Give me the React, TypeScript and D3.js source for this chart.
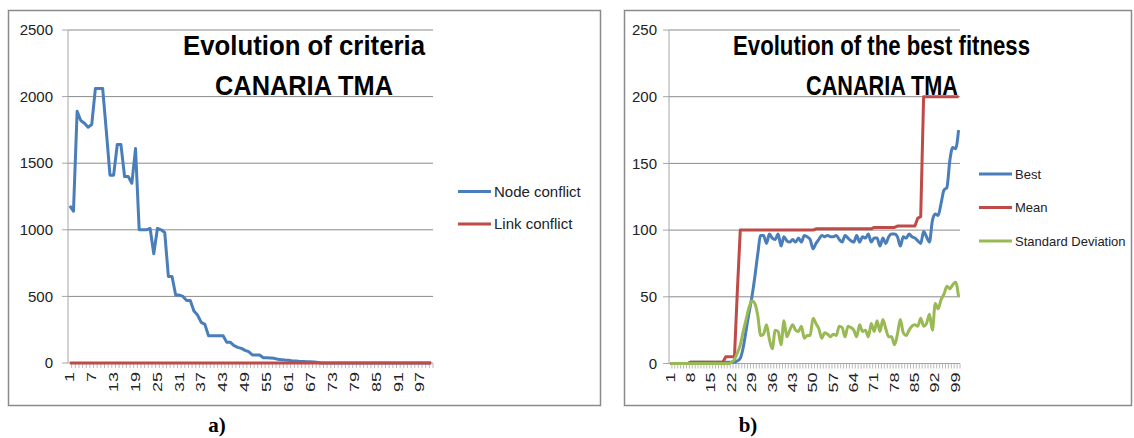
import React from "react";
import * as d3 from "d3";

const categories: number[] = d3.range(1, 101);

const nodeConflict = [
  1180, 1140, 1890, 1820, 1800, 1770, 1790, 2060, 2060, 2060,
  1740, 1410, 1410, 1640, 1640, 1400, 1400, 1350, 1610, 1000,
  1000, 1000, 1010, 820, 1010, 1000, 980, 650, 650, 510,
  510, 500, 470, 470, 390, 360, 305, 290, 205, 205,
  205, 205, 205, 155, 155, 130, 117, 110, 95, 85,
  60, 60, 60, 40, 40, 38, 35, 28, 25, 22,
  20, 15, 15, 12, 12, 10, 10, 8, 4, 0,
  0, 0, 0, 0, 0, 0, 0, 0, 0, 0,
  0, 0, 0, 0, 0, 0, 0, 0, 0, 0,
  0, 0, 0, 0, 0, 0, 0, 0, 0, 0,
];

const linkConflict = [
  0, 0, 0, 0, 0, 0, 0, 0, 0, 0,
  0, 0, 0, 0, 0, 0, 0, 0, 0, 0,
  0, 0, 0, 0, 0, 0, 0, 0, 0, 0,
  0, 0, 0, 0, 0, 0, 0, 0, 0, 0,
  0, 0, 0, 0, 0, 0, 0, 0, 0, 0,
  0, 0, 0, 0, 0, 0, 0, 0, 0, 0,
  0, 0, 0, 0, 0, 0, 0, 0, 0, 0,
  0, 0, 0, 0, 0, 0, 0, 0, 0, 0,
  0, 0, 0, 0, 0, 0, 0, 0, 0, 0,
  0, 0, 0, 0, 0, 0, 0, 0, 0, 0,
];

const best = [
  0, 0, 0, 0, 0, 0, 0, 1, 1, 1,
  1, 1, 1, 1, 1, 1, 1, 1, 1, 1,
  1, 1, 1, 2, 4, 12, 25, 38, 50, 65,
  82, 96, 96, 90, 97, 94, 93, 97, 88, 95,
  92, 91, 93, 91, 94, 91, 96, 95, 93, 86,
  90, 93, 96, 95, 96, 95, 95, 96, 93, 91,
  96, 94, 92, 91, 96, 91, 95, 94, 97, 91,
  94, 94, 88, 94, 90, 95, 97, 97, 95, 88,
  95, 94, 97, 95, 94, 92, 90, 99, 95, 91,
  107, 112, 111, 120, 130, 132, 152, 162, 161, 175,
];

const mean = [
  0, 0, 0, 0, 0, 0, 0, 1, 1, 1,
  1, 1, 1, 1, 1, 1, 1, 1, 1, 5,
  5, 5, 5, 55, 100, 100, 100, 100, 100, 100,
  100, 100, 100, 100, 100, 100, 100, 100, 100, 100,
  100, 100, 100, 100, 100, 100, 100, 100, 100, 100,
  101, 101, 101, 101, 101, 101, 101, 101, 101, 101,
  101, 101, 101, 101, 101, 101, 101, 101, 101, 101,
  102, 102, 102, 102, 102, 102, 102, 102, 103, 103,
  103, 103, 103, 103, 103, 109, 110, 200, 200, 200,
  200, 200, 200, 200, 200, 200, 200, 200, 200, 200,
];

const stdDev = [
  0, 0, 0, 0, 0, 0, 0, 0, 0, 0,
  0, 0, 0, 0, 0, 0, 0, 0, 0, 0,
  0, 1, 3, 8, 14, 24, 33, 42, 47, 45,
  36, 21, 22, 29, 18, 11, 25, 24, 14, 32,
  20, 25, 29, 25, 24, 28, 19, 21, 21, 34,
  30, 26, 19, 23, 22, 20, 22, 21, 28, 27,
  20, 28, 27, 25, 20, 29, 24, 25, 20, 30,
  24, 32, 24, 33, 26, 20, 20, 14, 22, 33,
  23, 21, 25, 28, 29, 28, 34, 28, 30, 37,
  25, 45, 41, 48, 52, 58, 56, 59, 61, 50,
];

const leftTicks = [0, 500, 1000, 1500, 2000, 2500];
const rightTicks = [0, 50, 100, 150, 200, 250];

const BLUE = "#4A7EBB";
const RED = "#BE4B48";
const GREEN = "#98B954";
const GRID = "#8A8A8A";
const AXIS = "#A6A6A6";
const TEXT = "#222";
const FONT = "'Liberation Sans', Arial, sans-serif";

type Series = { name: string; values: number[]; color: string; smooth?: boolean };

type ChartProps = {
  x0: number;
  x1: number;
  yTop: number;
  yBottom: number;
  yMax: number;
  yTicks: number[];
  labelStep: number;
  labelRight: number;
  series: Series[];
  legendX: number;
  legendY: number[];
  legendFont: number;
  titles: { text: string; x: number; y: number; len: number }[];
};

function Chart(p: ChartProps) {
  const x = d3.scaleBand<number>().domain(categories).range([p.x0, p.x1]).padding(0);
  const bw = x.bandwidth();
  const y = d3.scaleLinear().domain([0, p.yMax]).range([p.yBottom, p.yTop]);
  const cx = (c: number) => (x(c) as number) + bw / 2;

  const labelCats = categories.filter((c) => (c - 1) % p.labelStep === 0);

  return (
    <g>
      {p.yTicks.map((t) => (
        <g key={"g" + t}>
          {t > 0 && (
            <line x1={p.x0} x2={p.x1} y1={y(t)} y2={y(t)} stroke={GRID} strokeWidth={1} />
          )}
          <line x1={p.x0 - 6} x2={p.x0} y1={y(t)} y2={y(t)} stroke={AXIS} strokeWidth={1} />
          <text
            x={p.labelRight}
            y={y(t)}
            dy="0.35em"
            textAnchor="end"
            fontFamily={FONT}
            fontSize={15}
            fill={TEXT}
          >
            {t}
          </text>
        </g>
      ))}
      <line x1={p.x0} x2={p.x0} y1={p.yTop} y2={p.yBottom} stroke={AXIS} strokeWidth={1} />
      <line x1={p.x0} x2={p.x1} y1={p.yBottom} y2={p.yBottom} stroke={AXIS} strokeWidth={1} />
      {categories.map((c) => (
        <line
          key={"t" + c}
          x1={(x(c) as number) + bw}
          x2={(x(c) as number) + bw}
          y1={p.yBottom}
          y2={p.yBottom + 5}
          stroke={AXIS}
          strokeWidth={0.8}
        />
      ))}
      {labelCats.map((c) => (
        <text
          key={"l" + c}
          transform={`translate(${cx(c)},${p.yBottom + 9}) rotate(-90) scale(1.2,0.8)`}
          textAnchor="end"
          dy="0.35em"
          fontFamily={FONT}
          fontSize={15}
          fill={TEXT}
        >
          {c}
        </text>
      ))}
      {p.titles.map((t) => (
        <text
          key={t.text + t.y}
          x={t.x}
          y={t.y}
          textLength={t.len}
          lengthAdjust="spacingAndGlyphs"
          fontFamily={FONT}
          fontWeight="bold"
          fontSize={28}
          fill="#000"
        >
          {t.text}
        </text>
      ))}
      {p.series.map((s) => {
        const line = d3
          .line<number>()
          .x((_, i) => cx(categories[i]))
          .y((v) => y(v))
          .curve(s.smooth ? d3.curveMonotoneX : d3.curveLinear);
        return (
          <path
            key={s.name}
            d={line(s.values) || ""}
            fill="none"
            stroke={s.color}
            strokeWidth={3}
            strokeLinejoin="round"
          />
        );
      })}
      {p.series.map((s, i) => (
        <g key={"lg" + s.name}>
          <line
            x1={p.legendX}
            x2={p.legendX + 33}
            y1={p.legendY[i]}
            y2={p.legendY[i]}
            stroke={s.color}
            strokeWidth={3}
          />
          <text
            x={p.legendX + 36}
            y={p.legendY[i]}
            dy="0.35em"
            fontFamily={FONT}
            fontSize={p.legendFont}
            fill={TEXT}
          >
            {s.name}
          </text>
        </g>
      ))}
    </g>
  );
}

export default function App() {
  return (
    <svg
      width={1134}
      height={438}
      style={{ position: "absolute", left: 0, top: 0, background: "#fff" }}
    >
      <rect x={0} y={0} width={1134} height={438} fill="#fff" />
      <rect x={8.5} y={10.5} width={592} height={395} fill="none" stroke="#8A8A8A" strokeWidth={1.5} />
      <rect x={624.5} y={10.5} width={507} height={395} fill="none" stroke="#8A8A8A" strokeWidth={1.5} />
      <Chart
        x0={68}
        x1={433}
        yTop={30}
        yBottom={363}
        yMax={2500}
        yTicks={leftTicks}
        labelStep={6}
        labelRight={53}
        series={[
          { name: "Node conflict", values: nodeConflict, color: BLUE },
          { name: "Link conflict", values: linkConflict, color: RED },
        ]}
        legendX={458}
        legendY={[191.5, 224]}
        legendFont={15}
        titles={[
          { text: "Evolution of criteria", x: 183, y: 55, len: 242 },
          { text: "CANARIA TMA", x: 215, y: 95, len: 178 },
        ]}
      />
      <Chart
        x0={669}
        x1={960}
        yTop={30}
        yBottom={363.5}
        yMax={250}
        yTicks={rightTicks}
        labelStep={7}
        labelRight={657}
        series={[
          { name: "Best", values: best, color: BLUE, smooth: true },
          { name: "Mean", values: mean, color: RED },
          { name: "Standard Deviation", values: stdDev, color: GREEN, smooth: true },
        ]}
        legendX={979}
        legendY={[174, 207.5, 241]}
        legendFont={13}
        titles={[
          { text: "Evolution of the best fitness", x: 733, y: 55, len: 297 },
          { text: "CANARIA TMA", x: 806, y: 95, len: 152 },
        ]}
      />
      <text x={217} y={432} textAnchor="middle" fontFamily="'Liberation Serif', serif" fontWeight="bold" fontSize={21} fill="#000">
        a)
      </text>
      <text x={748} y={432} textAnchor="middle" fontFamily="'Liberation Serif', serif" fontWeight="bold" fontSize={21} fill="#000">
        b)
      </text>
    </svg>
  );
}
